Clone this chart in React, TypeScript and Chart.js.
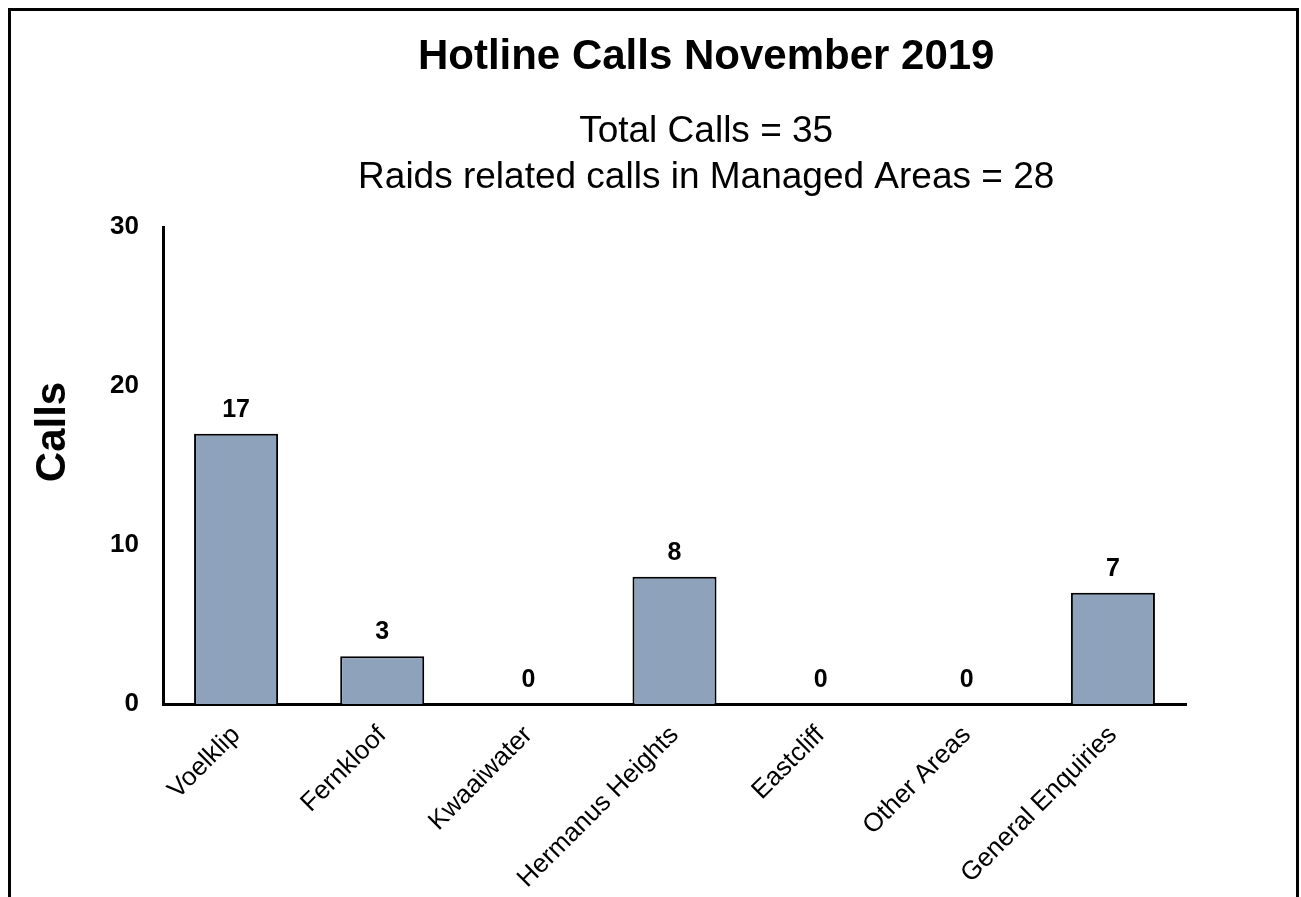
import React, { useEffect, useRef } from "react";
import { Chart, registerables } from "chart.js";

Chart.register(...registerables);

const categories = [
  "Voelklip",
  "Fernkloof",
  "Kwaaiwater",
  "Hermanus Heights",
  "Eastcliff",
  "Other Areas",
  "General Enquiries",
];
const calls = [17, 3, 0, 8, 0, 0, 7];
const yMin = 0;
const yMax = 30;
const yStep = 10;
const titleText = "Hotline Calls November 2019";
const subtitleLines = ["Total Calls = 35", "Raids related calls in Managed Areas = 28"];
const yAxisTitle = "Calls";

const FONT = "'Liberation Sans', Arial, Helvetica, sans-serif";
const BAR_COLOR = "#8EA2BB";

const headerPlugin = {
  id: "headerText",
  afterDraw(chart: any) {
    const ctx = chart.ctx;
    const w = chart.width;
    ctx.save();
    ctx.fillStyle = "#000";
    ctx.textAlign = "center";
    ctx.textBaseline = "middle";
    ctx.font = `bold 42px ${FONT}`;
    ctx.fillText(titleText, w * 0.541, 46);
    ctx.font = `37px ${FONT}`;
    ctx.fillText(subtitleLines[0], w * 0.541, 121);
    ctx.fillText(subtitleLines[1], w * 0.541, 167);
    ctx.translate(42, 421);
    ctx.rotate(-Math.PI / 2);
    ctx.font = `bold 42px ${FONT}`;
    ctx.fillText(yAxisTitle, 0, 0);
    ctx.restore();
  },
};

const valueLabelPlugin = {
  id: "valueLabels",
  afterDatasetsDraw(chart: any) {
    const ctx = chart.ctx;
    const meta = chart.getDatasetMeta(0);
    ctx.save();
    ctx.fillStyle = "#000";
    ctx.textAlign = "center";
    ctx.textBaseline = "alphabetic";
    ctx.font = `bold 25px ${FONT}`;
    meta.data.forEach((bar: any, i: number) => {
      ctx.fillText(String(calls[i]), bar.x, bar.y - 17);
    });
    ctx.restore();
  },
};

export default function App() {
  const canvasRef = useRef<HTMLCanvasElement | null>(null);

  useEffect(() => {
    document.documentElement.style.overflow = "hidden";
    const canvas = canvasRef.current;
    if (!canvas) return;
    const chart = new Chart(canvas, {
      type: "bar",
      data: {
        labels: categories,
        datasets: [
          {
            data: calls,
            backgroundColor: BAR_COLOR,
            borderColor: "#000",
            borderWidth: 2,
            categoryPercentage: 1,
            barPercentage: 0.575,
          },
        ],
      },
      plugins: [headerPlugin, valueLabelPlugin],
      options: {
        responsive: false,
        animation: false,
        layout: { padding: { top: 216, right: 110, left: 0, bottom: 0 } },
        plugins: {
          legend: { display: false },
          title: { display: false },
          tooltip: { enabled: false },
        },
        scales: {
          x: {
            z: 1,
            grid: { display: false, drawTicks: false },
            border: { display: true, color: "#000", width: 3 },
            ticks: {
              color: "#000",
              font: { size: 26, family: FONT },
              maxRotation: 45,
              minRotation: 45,
              padding: 16,
              autoSkip: false,
            },
            afterFit(scale: any) {
              scale.height = 185;
            },
          },
          y: {
            min: yMin,
            max: yMax,
            grid: { display: false, drawTicks: false },
            border: { display: true, color: "#000", width: 3 },
            ticks: {
              stepSize: yStep,
              color: "#000",
              font: { size: 26, family: FONT, weight: "bold" },
              padding: 24,
            },
            afterFit(scale: any) {
              scale.width = 152;
            },
          },
        },
      },
    } as any);
    return () => chart.destroy();
  }, []);

  return (
    <div
      style={{
        position: "fixed",
        left: 8,
        top: 8,
        right: 2,
        bottom: -20,
        overflow: "hidden",
        borderTop: "3px solid #000",
        borderLeft: "3px solid #000",
        borderRight: "3px solid #000",
        background: "#fff",
      }}
    >
      <canvas ref={canvasRef} width={1285} height={878} style={{ display: "block" }} />
    </div>
  );
}
